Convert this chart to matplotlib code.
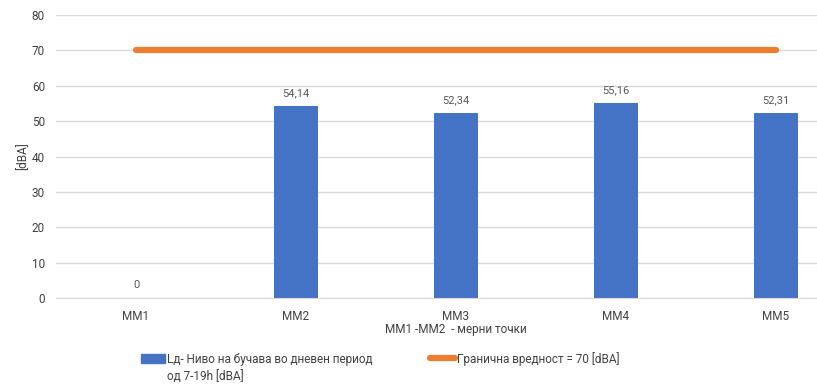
import matplotlib
matplotlib.use("Agg")
import matplotlib.pyplot as plt
from matplotlib.lines import Line2D
from matplotlib.patches import Patch

points = ["MM1", "MM2", "MM3", "MM4", "MM5"]
levels = [0, 54.14, 52.34, 55.16, 52.31]
limit = [70, 70, 70, 70, 70]

BLUE = "#4472C4"
ORANGE = "#ED7D31"
GRID = "#D9D9D9"
TXT = "#595959"

plt.rcParams["font.family"] = ["Roboto", "DejaVu Sans"]
plt.rcParams["ytick.major.pad"] = 8
plt.rcParams["xtick.major.pad"] = 9
plt.rcParams["ytick.major.size"] = 0
plt.rcParams["xtick.major.size"] = 0

fig = plt.figure(figsize=(8.17, 3.85), dpi=100)
# plot area runs past the right edge, as in the cropped original
ax = fig.add_axes([56 / 817, 87 / 385, 800 / 817, 283 / 385])

x = list(range(len(points)))
ax.bar(x, levels, width=0.275, color=BLUE, zorder=2)
ax.plot(x, limit, color=ORANGE, linewidth=4.5, solid_capstyle="round", zorder=3)

for xi, v in zip(x, levels):
    lab = f"{v:.2f}".replace(".", ",") if v else "0"
    ax.text(xi, v + 2.2, lab, ha="center", va="bottom", fontsize=8, color=TXT)

ax.set_xlim(-0.5, len(points) - 0.5)
ax.set_ylim(0, 80)
ax.set_yticks(range(0, 81, 10))
ax.set_xticks(x)
ax.set_xticklabels(points)
ax.yaxis.grid(True, color=GRID, linewidth=1)
ax.set_axisbelow(True)
for s in ["top", "right", "left"]:
    ax.spines[s].set_visible(False)
ax.spines["bottom"].set_color(GRID)
ax.tick_params(axis="both", labelsize=8.5, colors="#404040")

ax.set_ylabel("[dBA]", fontsize=8.5, color="#404040")
ax.yaxis.set_label_coords(-0.034, 0.5)
fig.text(456 / 817, 1 - 329 / 385, "MM1 -MM2  - мерни точки", ha="center",
         va="center", fontsize=8.5, color="#404040")

handles = [Patch(color=BLUE),
           Line2D([0], [0], color=ORANGE, linewidth=4.5, solid_capstyle="round")]
labels = ["Lд- Ниво на бучава во дневен период",
          "Гранична вредност = 70 [dBA]"]
leg = fig.legend(handles, labels, ncol=2, loc="upper left",
                 bbox_to_anchor=(130 / 817, 1 - 341 / 385), frameon=False,
                 fontsize=8.5, handlelength=2.1, handletextpad=0.15,
                 columnspacing=4.85, labelcolor="#404040")

# second line of the first legend entry, aligned with its text
fig.canvas.draw()
bb = leg.get_texts()[0].get_window_extent().transformed(fig.transFigure.inverted())
fig.text(bb.x0, bb.y0 - 17 / 385, "од 7-19h [dBA]", ha="left", va="bottom",
         fontsize=8.5, color="#404040")

fig.savefig("out.png", dpi=100)
